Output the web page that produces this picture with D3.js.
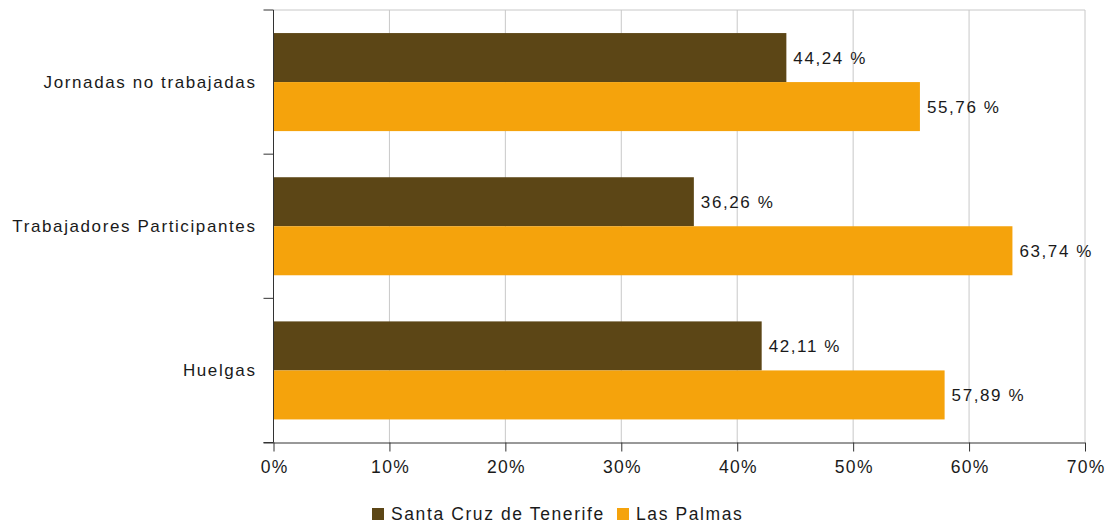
<!DOCTYPE html>
<html><head><meta charset="utf-8">
<script src="https://cdn.jsdelivr.net/npm/d3@7"></script>
<style>body{margin:0;background:#fff;}text{font-family:"Liberation Sans",Arial,sans-serif;fill:#1a1a1a;}</style>
</head><body><svg id="c" width="1110" height="524"></svg>
<script>
const categories = ["Jornadas no trabajadas", "Trabajadores Participantes", "Huelgas"];
const seriesNames = ["Santa Cruz de Tenerife", "Las Palmas"];
const santaCruz = [44.24, 36.26, 42.11];
const lasPalmas = [55.76, 63.74, 57.89];
const xTicks = [0, 10, 20, 30, 40, 50, 60, 70];
const colors = ["#5C4616", "#F5A30C"];

const svg = d3.select("#c");
const m = {l: 273.5, r: 1085, t: 10, b: 442.5};
const x = d3.scaleLinear().domain([0, 70]).range([m.l, m.r]);
const y = d3.scaleBand().domain(categories).range([m.t, m.b]).paddingInner(0.32).paddingOuter(0.16);
const sub = d3.scaleBand().domain(seriesNames).range([0, y.bandwidth()]);

// grid
svg.append("g").selectAll("line").data(xTicks.slice(1)).join("line")
  .attr("x1", d => x(d)).attr("x2", d => x(d)).attr("y1", m.t).attr("y2", m.b)
  .attr("stroke", "#c8c8c8").attr("stroke-width", 1);
svg.append("line").attr("x1", m.l).attr("x2", m.r).attr("y1", m.t).attr("y2", m.t)
  .attr("stroke", "#c8c8c8");

const data = categories.map((c, i) => ({c, vals: [santaCruz[i], lasPalmas[i]]}));
const g = svg.append("g");
data.forEach(d => {
  d.vals.forEach((v, j) => {
    const yy = y(d.c) + sub(seriesNames[j]);
    g.append("rect").attr("x", x(0)).attr("y", yy).attr("width", x(v) - x(0)).attr("height", sub.bandwidth())
      .attr("fill", colors[j]);
    g.append("text").attr("x", x(v) + 7).attr("y", yy + sub.bandwidth() / 2 + 6)
      .attr("font-size", 17).attr("letter-spacing", 1.6).text(v.toFixed(2).replace(".", ",") + " %");
  });
});

// x axis
const xa = svg.append("g").attr("transform", `translate(0,${m.b})`)
  .call(d3.axisBottom(x).tickValues(xTicks).tickFormat(d => d + "%").tickSize(9).tickPadding(9));
xa.select(".domain").attr("stroke", "#333").attr("d", `M${m.l - 10},0.5H${m.r}`);
xa.selectAll(".tick line").attr("stroke", "#333");
xa.selectAll("text").attr("font-size", 17.5).attr("letter-spacing", 1.3)
  .attr("font-family", "Liberation Sans, Arial, sans-serif").attr("fill", "#1a1a1a")
  .attr("dx", 0.65);

// y axis
const ya = svg.append("g").attr("transform", `translate(${m.l},0)`);
ya.append("line").attr("x1", 0).attr("x2", 0).attr("y1", m.t).attr("y2", m.b).attr("stroke", "#333");
const tickYs = d3.range(categories.length + 1).map(i => m.t + i * y.step());
ya.selectAll(".yt").data(tickYs).join("line").attr("class", "yt")
  .attr("x1", -10).attr("x2", 0).attr("y1", d => d).attr("y2", d => d).attr("stroke", "#333");
ya.selectAll(".yl").data(categories).join("text").attr("class", "yl")
  .attr("x", -17).attr("y", d => y(d) + y.bandwidth() / 2 + 6)
  .attr("text-anchor", "end").attr("font-size", 17).attr("letter-spacing", 1.6).text(d => d);

// legend
const lg = svg.append("g");
const lx = [372, 617];
seriesNames.forEach((s, j) => {
  lg.append("rect").attr("x", lx[j]).attr("y", 508).attr("width", 12).attr("height", 12).attr("fill", colors[j]);
  lg.append("text").attr("x", lx[j] + 19).attr("y", 520).attr("font-size", 17.5).attr("letter-spacing", 1.6).text(s);
});
</script></body></html>
